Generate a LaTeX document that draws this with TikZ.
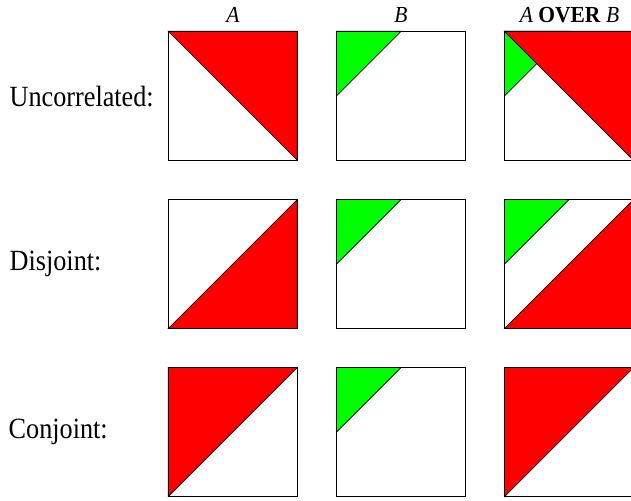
\documentclass[tikz,border=0pt]{standalone}
\usepackage{graphicx}
\usepackage{fontspec}
\setmainfont{Liberation Serif}
\newcommand{\vstretch}[2]{\scalebox{1}[#1]{#2}}
\begin{document}
\begin{tikzpicture}[x=1pt,y=-1pt,
  frame/.style={draw=black,line width=1.3pt},
  redtri/.style={fill=red,draw=black,line width=0.7pt,line join=miter},
  greentri/.style={fill=green,draw=black,line width=0.7pt},
  hdr/.style={anchor=base,inner sep=0pt,font=\fontsize{21.5}{25}\selectfont},
  rowlbl/.style={anchor=base west,inner sep=0pt,font=\fontsize{26.2}{30}\selectfont}]
\useasboundingbox (0,0) rectangle (631,500);
\def\S{129}
\def\H{64.5}
% headers
\node[hdr] (hA) at (233,22.7) {\vstretch{1.07}{\textit{A}}};
\node[hdr] (hB) at (401,22.7) {\vstretch{1.07}{\textit{B}}};
\node[hdr] (hC) at (569.5,22.7) {\vstretch{1.07}{\textit{A} \textbf{OVER} \textit{B}}};
% row labels
\node[rowlbl] (l1) at (9.5,106.3) {\vstretch{1.12}{Uncorrelated:}};
\node[rowlbl] (l2) at (9.5,270.5) {\vstretch{1.12}{Disjoint:}};
\node[rowlbl] (l3) at (8.5,438.5) {\vstretch{1.12}{Conjoint:}};
% ---- Row 1: uncorrelated
\begin{scope}[shift={(168.3,31.3)}]
  \path[redtri] (0,0) -- (\S,0) -- (\S,\S) -- cycle;
  \draw[frame] (0,0) rectangle (\S,\S);
\end{scope}
\begin{scope}[shift={(336.5,31.3)}]
  \path[greentri] (0,0) -- (\H,0) -- (0,\H) -- cycle;
  \draw[frame] (0,0) rectangle (\S,\S);
\end{scope}
\begin{scope}[shift={(504.5,31.3)}]
  \path[greentri] (0,0) -- (\H,0) -- (0,\H) -- cycle;
  \path[redtri] (0,0) -- (\S,0) -- (\S,\S) -- cycle;
  \draw[frame] (0,0) rectangle (\S,\S);
\end{scope}
% ---- Row 2: disjoint
\begin{scope}[shift={(168.3,199.5)}]
  \path[redtri] (0,\S) -- (\S,0) -- (\S,\S) -- cycle;
  \draw[frame] (0,0) rectangle (\S,\S);
\end{scope}
\begin{scope}[shift={(336.5,199.5)}]
  \path[greentri] (0,0) -- (\H,0) -- (0,\H) -- cycle;
  \draw[frame] (0,0) rectangle (\S,\S);
\end{scope}
\begin{scope}[shift={(504.5,199.5)}]
  \path[greentri] (0,0) -- (\H,0) -- (0,\H) -- cycle;
  \path[redtri] (0,\S) -- (\S,0) -- (\S,\S) -- cycle;
  \draw[frame] (0,0) rectangle (\S,\S);
\end{scope}
% ---- Row 3: conjoint
\begin{scope}[shift={(168.3,367.5)}]
  \path[redtri] (0,0) -- (\S,0) -- (0,\S) -- cycle;
  \draw[frame] (0,0) rectangle (\S,\S);
\end{scope}
\begin{scope}[shift={(336.5,367.5)}]
  \path[greentri] (0,0) -- (\H,0) -- (0,\H) -- cycle;
  \draw[frame] (0,0) rectangle (\S,\S);
\end{scope}
\begin{scope}[shift={(504.5,367.5)}]
  \path[greentri] (0,0) -- (\H,0) -- (0,\H) -- cycle;
  \path[redtri] (0,0) -- (\S,0) -- (0,\S) -- cycle;
  \draw[frame] (0,0) rectangle (\S,\S);
\end{scope}
\end{tikzpicture}
\end{document}
